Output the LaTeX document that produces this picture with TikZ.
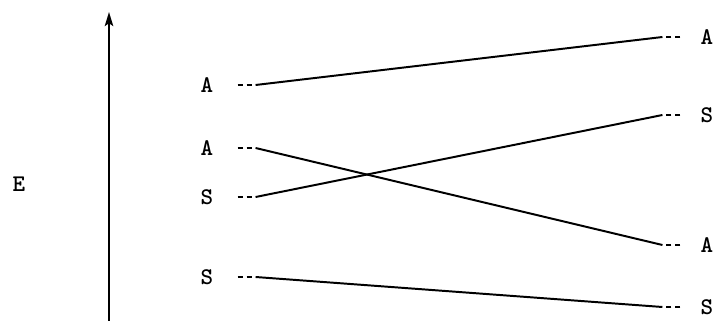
\documentclass[tikz,border=0pt]{standalone}
\usepackage{fontspec}
\usetikzlibrary{arrows.meta}

\begin{document}
\begin{tikzpicture}[x=0.025cm, y=-0.025cm, >={Stealth[length=10pt,width=6pt,inset=2pt]},
    every node/.style={inner sep=0pt, font=\ttfamily\bfseries\fontsize{17}{19}\selectfont},
    stub/.style={line width=1.2pt, dash pattern=on 4pt off 2.5pt},
    level/.style={line width=1.4pt}]
  \useasboundingbox (0,0) rectangle (718,321);
  \coordinate (base) at (109,321);
  \coordinate (top) at (109,12);
  \draw[->, line width=1.3pt] (base) -- (top);
  \node (E) at (19,184) {E};

  % left levels
  \node (lA1) at (207,85) {A};
  \node (lA2) at (207,148) {A};
  \node (lS1) at (207,197) {S};
  \node (lS2) at (207,277) {S};
  % right levels
  \node (rA1) at (707,37) {A};
  \node (rS1) at (707,115) {S};
  \node (rA2) at (707,245) {A};
  \node (rS2) at (707,307) {S};

  \draw[stub] ([xshift=0.6cm]lA1.east) -- ++(18,0) coordinate (lA1x);
  \draw[stub] ([xshift=0.6cm]lA2.east) -- ++(18,0) coordinate (lA2x);
  \draw[stub] ([xshift=0.6cm]lS1.east) -- ++(18,0) coordinate (lS1x);
  \draw[stub] ([xshift=0.6cm]lS2.east) -- ++(18,0) coordinate (lS2x);
  \draw[stub] ([xshift=-0.5cm]rA1.west) -- ++(-18,0) coordinate (rA1x);
  \draw[stub] ([xshift=-0.5cm]rS1.west) -- ++(-18,0) coordinate (rS1x);
  \draw[stub] ([xshift=-0.5cm]rA2.west) -- ++(-18,0) coordinate (rA2x);
  \draw[stub] ([xshift=-0.5cm]rS2.west) -- ++(-18,0) coordinate (rS2x);

  \draw[level] (lA1x) -- (rA1x);
  \draw[level] (lA2x) -- (rA2x);
  \draw[level] (lS1x) -- (rS1x);
  \draw[level] (lS2x) -- (rS2x);
\end{tikzpicture}
\end{document}
